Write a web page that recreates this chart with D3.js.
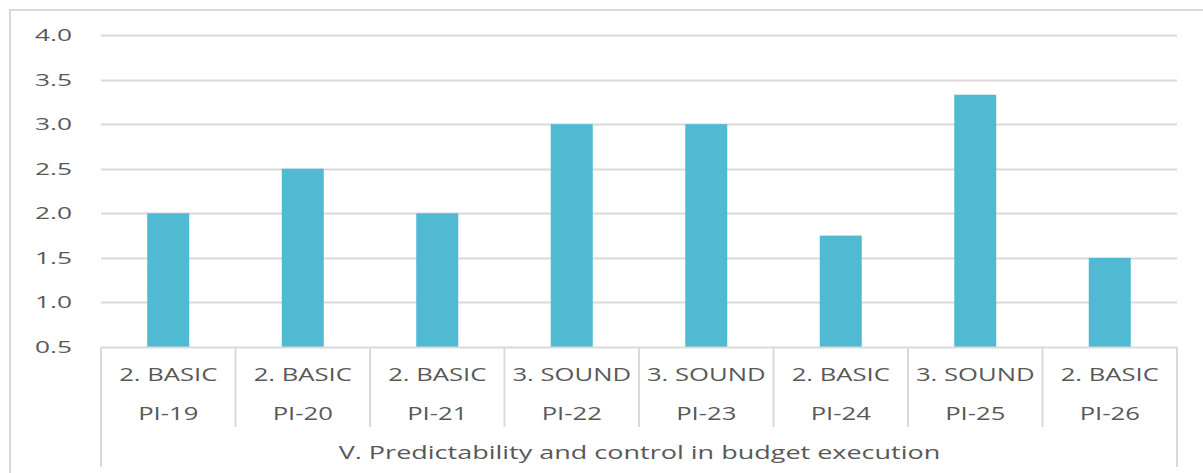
<!DOCTYPE html>
<html>
<head>
<meta charset="utf-8">
<script src="https://cdn.jsdelivr.net/npm/d3@7"></script>
<style>
  html, body { margin: 0; padding: 0; background: #fff; }
  svg { display: block; }
  text { font-family: "Open Sans", "DejaVu Sans", sans-serif; fill: #595959; }
</style>
</head>
<body>
<svg id="chart" width="1203" height="473"></svg>
<script>
// Indicator scores, grouped by pillar
const indicators = ["PI-19", "PI-20", "PI-21", "PI-22", "PI-23", "PI-24", "PI-25", "PI-26"];
const ratings = ["2. BASIC", "2. BASIC", "2. BASIC", "3. SOUND", "3. SOUND", "2. BASIC", "3. SOUND", "2. BASIC"];
const scores = [2.0, 2.5, 2.0, 3.0, 3.0, 1.75, 3.33, 1.5];
const pillar = "V. Predictability and control in budget execution";
const yTicks = [0.5, 1.0, 1.5, 2.0, 2.5, 3.0, 3.5, 4.0];

const svg = d3.select("#chart");
const grid = "#d9d9d9";
const plot = { left: 101, right: 1177, top: 35, bottom: 347 };

// Wide-set label: text placed at (x, y) with a horizontal stretch
function label(parent, x, y, str, size, sx, anchor) {
  parent.append("text")
    .attr("transform", `translate(${x},${y}) scale(${sx},1)`)
    .attr("dy", "0.35em")
    .attr("text-anchor", anchor)
    .style("font-size", size + "px")
    .text(str);
}

// Outer frame
svg.append("path")
  .attr("d", "M10,480 L10,10 L1210,10")
  .attr("fill", "none").attr("stroke", grid).attr("stroke-width", 2);

const x = d3.scaleBand().domain(indicators).range([plot.left, plot.right]).paddingInner(0).paddingOuter(0);
const y = d3.scaleLinear().domain([0.5, 4.0]).range([plot.bottom, plot.top]);

// Horizontal gridlines
svg.append("g").selectAll("line").data(yTicks.filter(t => t > 0.5)).join("line")
  .attr("x1", plot.left).attr("x2", plot.right)
  .attr("y1", d => Math.round(y(d)) + 0.5).attr("y2", d => Math.round(y(d)) + 0.5)
  .attr("stroke", grid).attr("stroke-width", 2);

// Y tick labels
const yl = svg.append("g");
yTicks.forEach(t => label(yl, 72, y(t), d3.format(".1f")(t), 17, 1.55, "end"));

// Bars
const barW = 42;
svg.append("g").selectAll("rect").data(scores).join("rect")
  .attr("x", (d, i) => x(indicators[i]) + x.bandwidth() / 2 - barW / 2)
  .attr("width", barW)
  .attr("y", d => y(d))
  .attr("height", d => y(0.5) - y(d))
  .attr("fill", "#4fbad2");

// Category axis baseline
svg.append("line")
  .attr("x1", plot.left).attr("x2", plot.right)
  .attr("y1", plot.bottom + 0.5).attr("y2", plot.bottom + 0.5)
  .attr("stroke", grid).attr("stroke-width", 2);

// Separators between categories (inner) and around the group (outer)
const bounds = indicators.map(d => x(d)).concat([plot.right]);
svg.append("g").selectAll("line").data(bounds).join("line")
  .attr("x1", d => d).attr("x2", d => d)
  .attr("y1", plot.bottom)
  .attr("y2", (d, i) => (i === 0 || i === bounds.length - 1) ? 467 : 427)
  .attr("stroke", grid).attr("stroke-width", 2);

// Rating row and indicator row
const cat = svg.append("g");
indicators.forEach((d, i) => {
  const cx = x(d) + x.bandwidth() / 2;
  label(cat, cx, 374, ratings[i], 19, 1.35, "middle");
  label(cat, cx, 413, d, 19, 1.35, "middle");
});

// Pillar label
label(svg, (plot.left + plot.right) / 2 + 0.5, 453, pillar, 18, 1.5, "middle");
</script>
</body>
</html>
